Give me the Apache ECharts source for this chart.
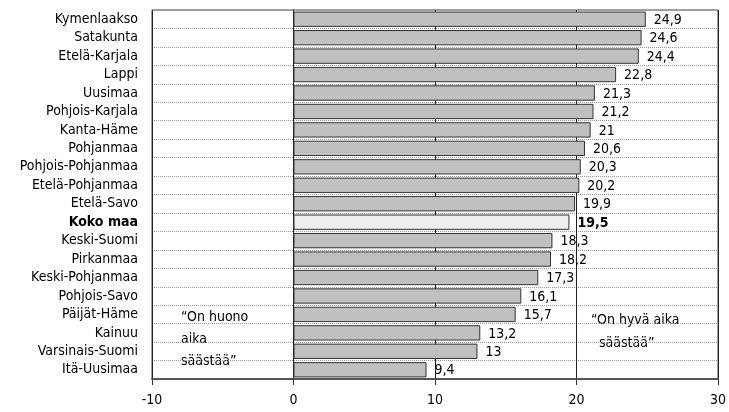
<!DOCTYPE html>
<html><head><meta charset="utf-8">
<script src="https://cdn.jsdelivr.net/npm/echarts@6/dist/echarts.min.js"></script>
<style>html,body{margin:0;padding:0;background:#fff}#c{width:729px;height:412px}</style>
</head><body><div id="c"></div>
<script>
const categories = ["Kymenlaakso","Satakunta","Etelä-Karjala","Lappi","Uusimaa","Pohjois-Karjala","Kanta-Häme","Pohjanmaa","Pohjois-Pohjanmaa","Etelä-Pohjanmaa","Etelä-Savo","Koko maa","Keski-Suomi","Pirkanmaa","Keski-Pohjanmaa","Pohjois-Savo","Päijät-Häme","Kainuu","Varsinais-Suomi","Itä-Uusimaa"];
const values = [24.9,24.6,24.4,22.8,21.3,21.2,21,20.6,20.3,20.2,19.9,19.5,18.3,18.2,17.3,16.1,15.7,13.2,13,9.4];
const highlight = "Koko maa";
const xTicks = [-10,0,10,20,30];
const noteLeft = "“On huono\naika\nsäästää”";
const noteRight = "“On hyvä aika\n  säästää”";

const FONT = "'DejaVu Sans Condensed','DejaVu Sans',sans-serif";
const chart = echarts.init(document.getElementById('c'), null, {renderer:'canvas'});
const fmt = v => String(v).replace('.', ',');
chart.setOption({
  animation:false,
  textStyle:{fontFamily:FONT},
  grid:{left:152,right:9,top:10,bottom:33,show:true,borderColor:'#444',borderWidth:1,backgroundColor:'#fff'},
  xAxis:{type:'value',min:xTicks[0],max:xTicks[xTicks.length-1],interval:10,
    axisLine:{show:true,onZero:false,lineStyle:{color:'#555',width:2}},
    axisTick:{show:true,length:6,lineStyle:{color:'#333'}},
    axisLabel:{color:'#000',fontSize:14,fontFamily:FONT,margin:14,formatter:v=>fmt(v)},
    splitLine:{show:true,lineStyle:{color:'#222',width:1}}},
  yAxis:{type:'category',data:categories,inverse:true,
    axisLine:{show:true,lineStyle:{color:'#222'}},
    axisTick:{show:false},
    axisLabel:{color:'#000',fontSize:14,fontFamily:FONT,margin:14,
      formatter:v=> v===highlight ? '{b|'+v+'}' : v,
      rich:{b:{fontWeight:'bold',fontSize:14,fontFamily:FONT,color:'#000'}}},
    splitLine:{show:true,lineStyle:{color:'#999',type:[1,1],width:1}}},
  series:[{type:'bar',barCategoryGap:'17%',
    data:values.map((v,i)=>({value:v,
      itemStyle:{color: categories[i]===highlight ? '#eeeeee' : '#c0c0c0', borderColor:'#333',borderWidth:1},
      label:{fontWeight: categories[i]===highlight ? 'bold':'normal'}})),
    label:{show:true,position:'right',distance:8,color:'#000',fontSize:14,fontFamily:FONT,
      offset:[0,1],formatter:p=>fmt(p.value)}}],
  graphic:[
    {type:'text',left:181,top:306,style:{text:noteLeft,font:"14px "+FONT,fill:'#000',lineHeight:22}},
    {type:'text',left:591,top:309,style:{text:noteRight,font:"14px "+FONT,fill:'#000',lineHeight:23}}
  ]
});
</script></body></html>
